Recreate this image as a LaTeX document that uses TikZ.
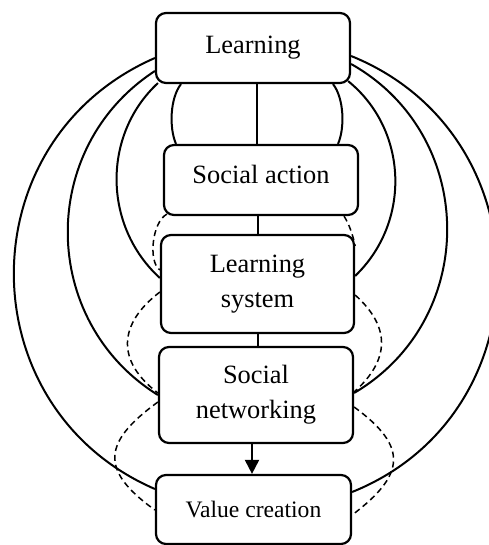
\documentclass[tikz,border=0pt]{standalone}
\usepackage{fontspec}
\setmainfont{Liberation Serif}
\usetikzlibrary{arrows.meta,calc}
\begin{document}
\begin{tikzpicture}[x=1pt,y=-1pt,
  box/.style={draw, line width=2.2pt, rounded corners=10pt, fill=white, inner sep=0pt,
    align=center, font=\fontsize{26.4}{35}\selectfont, minimum width=194pt},
  link/.style={line width=2pt},
  dlink/.style={line width=1.5pt, dash pattern=on 6pt off 4pt},
]
\useasboundingbox (0,0) rectangle (488,545);
\node[box, minimum height=70pt] (L) at (253,48) {Learning};
\node[box, minimum height=70pt, text depth=12pt] (SA) at (261,180) {Social action};
\node[box, minimum width=193pt, minimum height=98pt] (LS) at (257.5,284) {Learning\\system};
\node[box, minimum height=96pt] (SN) at (256,395) {Social\\networking};
\node[box, minimum width=195pt, minimum height=69pt, font=\fontsize{23.6}{30}\selectfont] (VC) at (253.5,509.5) {Value creation};

% solid arcs
\draw[link] (L.west |- 0,58) .. controls (-33.5,140.3) and (-32.9,407.6) .. (VC.west |- 0,489);
\draw[link] (L.east |- 0,56) .. controls (546,134.8) and (546.3,413.9) .. (VC.east |- 0,492);
\draw[link] (L.west |- 0,71) .. controls (37.1,147.8) and (39.3,321.1) .. (SN.west |- 0,395);
\draw[link] (L.east |- 0,64) .. controls (477.9,135.5) and (479.5,319.1) .. (SN.east |- 0,393);
\draw[link] ($(L.south west)+(3,-1)$) .. controls (102.2,134.7) and (102.7,225.9) .. (LS.west |- 0,278);
\draw[link] ($(L.south east)+(-3,-3)$) .. controls (408.2,129.8) and (411.4,221.9) .. (LS.east |- 0,276);
\draw[link] (L.south -| 181,0) .. controls (170,98) and (169,128) .. (SA.north -| 176,0);
\draw[link] (L.south -| 333,0) .. controls (344,98) and (345,128) .. (SA.north -| 338,0);

% dashed arcs
\draw[dlink] ($(SA.south west)+(4,-2)$) .. controls (152,222) and (148,262) .. (LS.west |- 0,270);
\draw[dlink] (SA.south -| 344,0) .. controls (349,224) and (353,235) .. (LS.east |- 0,246);
\draw[dlink] (LS.west |- 0,292) .. controls (118,324) and (116,361) .. (SN.west |- 0,393);
\draw[dlink] (LS.east |- 0,295) .. controls (391,327) and (390,360) .. (SN.east |- 0,392);
\draw[dlink] (SN.west |- 0,402) .. controls (103,442) and (99,470) .. (VC.west |- 0,510);
\draw[dlink] (SN.east |- 0,407) .. controls (409,447) and (405,475) .. (VC.east |- 0,515);

% straight connectors
\draw[link] (L.south -| 257,0) -- (SA.north -| 257,0);
\draw[link] (SA.south -| 258,0) -- (LS.north -| 258,0);
\draw[link] (LS.south -| 258,0) -- (SN.north -| 258,0);
\draw[link, -{Triangle[length=14pt,width=14pt]}] (SN.south -| 252,0) -- (VC.north -| 252,0);
\end{tikzpicture}
\end{document}
